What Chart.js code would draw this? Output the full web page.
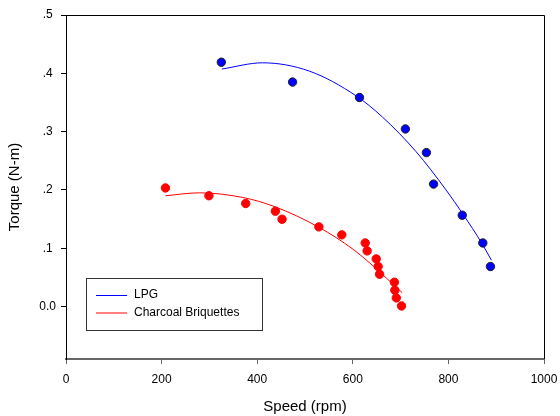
<!DOCTYPE html>
<html>
<head>
<meta charset="utf-8">
<script src="https://cdn.jsdelivr.net/npm/chart.js@4.4.0/dist/chart.umd.min.js"></script>
<style>
  html, body { margin: 0; padding: 0; background: #fff; }
  #wrap { width: 560px; height: 416px; }
</style>
</head>
<body>
<div id="wrap"><canvas id="torqueChart" width="560" height="416"></canvas></div>
<script>
// measured points
const lpgSpeed = [325, 474, 614, 710, 754, 769, 829, 872, 888];
const lpgTorque = [0.419, 0.385, 0.3585, 0.3046, 0.264, 0.210, 0.1566, 0.109, 0.0686];
const charSpeed = [208, 299, 376, 438, 452, 529, 577, 626, 630, 649, 653, 656, 687, 688, 691, 702];
const charTorque = [0.2034, 0.190, 0.1767, 0.1635, 0.1497, 0.1366, 0.1229, 0.109, 0.0954, 0.0817, 0.0686, 0.0554, 0.0417, 0.028, 0.0148, 0.001];

// regression curves
const lpgFitSpeed = [326, 411, 509, 607, 662, 732, 795, 830, 871, 890];
const lpgFitTorque = [0.4073, 0.418, 0.4038, 0.3613, 0.325, 0.266, 0.200, 0.159, 0.107, 0.0794];
const charFitSpeed = [208, 279, 370, 436, 530, 600, 642, 670, 703];
const charFitTorque = [0.190, 0.195, 0.187, 0.1715, 0.1355, 0.0985, 0.070, 0.049, 0.024];

const seriesNames = ['LPG', 'Charcoal Briquettes'];
const xTicks = [0, 200, 400, 600, 800, 1000];
const yTicks = [0, 0.1, 0.2, 0.3, 0.4, 0.5];
const yTickLabels = ['0.0', '.1', '.2', '.3', '.4', '.5'];

const FONT = 'Liberation Sans, Arial, sans-serif';
const toXY = (xs, ys) => xs.map((x, i) => ({ x: x, y: ys[i] }));

const frameAndLegend = {
    id: 'frameAndLegend',
    afterDraw(chart) {
        const ctx = chart.ctx;
        const a = chart.chartArea;
        ctx.save();
        // top and right border
        ctx.strokeStyle = '#000';
        ctx.lineWidth = 1;
        ctx.beginPath();
        ctx.moveTo(a.left, a.top + 0.5);
        ctx.lineTo(a.right + 0.5, a.top + 0.5);
        ctx.lineTo(a.right + 0.5, a.bottom);
        ctx.stroke();

        // legend box inside the plot
        ctx.strokeStyle = '#333';
        ctx.strokeRect(86.5, 278.5, 176, 52);
        const colors = ['#0000ff', '#ff0000'];
        ctx.font = '12px ' + FONT;
        ctx.textBaseline = 'middle';
        ctx.fillStyle = '#000';
        seriesNames.forEach((name, i) => {
            const y = 295 + i * 17.5;
            ctx.strokeStyle = colors[i];
            ctx.beginPath();
            ctx.moveTo(96, y + 0.5);
            ctx.lineTo(127, y + 0.5);
            ctx.stroke();
            ctx.fillText(name, 134, y);
        });
        ctx.restore();
    }
};

new Chart(document.getElementById('torqueChart'), {
    type: 'scatter',
    data: {
        datasets: [
            {
                label: seriesNames[0] + ' fit',
                data: toXY(lpgFitSpeed, lpgFitTorque),
                showLine: true,
                borderColor: '#0000ff',
                borderWidth: 1,
                pointRadius: 0,
                cubicInterpolationMode: 'monotone',
                fill: false
            },
            {
                label: seriesNames[1] + ' fit',
                data: toXY(charFitSpeed, charFitTorque),
                showLine: true,
                borderColor: '#ff0000',
                borderWidth: 1,
                pointRadius: 0,
                cubicInterpolationMode: 'monotone',
                fill: false
            },
            {
                label: seriesNames[0],
                data: toXY(lpgSpeed, lpgTorque),
                backgroundColor: '#0000ff',
                borderColor: '#222',
                borderWidth: 1,
                pointRadius: 4.2
            },
            {
                label: seriesNames[1],
                data: toXY(charSpeed, charTorque),
                backgroundColor: '#ff0000',
                borderColor: '#ff0000',
                borderWidth: 1,
                pointRadius: 4.2
            }
        ]
    },
    options: {
        responsive: false,
        animation: false,
        devicePixelRatio: 1,
        layout: { padding: { top: 15, right: 16, bottom: 0, left: 0 } },
        plugins: {
            legend: { display: false },
            tooltip: { enabled: false }
        },
        scales: {
            x: {
                type: 'linear',
                min: 0,
                max: 1000,
                afterBuildTicks: (s) => { s.ticks = xTicks.map(v => ({ value: v })); },
                afterFit: (s) => { s.height = 57; s.paddingLeft = 0; s.paddingRight = 0; },
                grid: { display: true, drawOnChartArea: false, drawTicks: true, tickLength: 5, color: '#666', lineWidth: 1 },
                border: { display: true, color: '#666', width: 2 },
                ticks: { color: '#000', font: { family: FONT, size: 12 }, padding: 8, maxRotation: 0, callback: (v) => String(v) },
                title: { display: true, text: 'Speed (rpm)', color: '#000', font: { family: FONT, size: 15 }, padding: 0 }
            },
            y: {
                type: 'linear',
                min: -0.09,
                max: 0.5,
                afterBuildTicks: (s) => { s.ticks = yTicks.map(v => ({ value: v })); },
                afterFit: (s) => { s.width = 66; s.paddingTop = 0; s.paddingBottom = 0; },
                grid: { display: true, drawOnChartArea: false, drawTicks: true, tickLength: 5, color: '#000', lineWidth: 1 },
                border: { display: true, color: '#000', width: 1 },
                ticks: {
                    color: '#000',
                    font: { family: FONT, size: 12 },
                    padding: 5,
                    crossAlign: 'center',
                    callback: (v) => {
                        const i = yTicks.findIndex(t => Math.abs(t - v) < 1e-9);
                        return i >= 0 ? yTickLabels[i] : '';
                    }
                },
                title: { display: true, text: 'Torque (N-m)', color: '#000', font: { family: FONT, size: 15 }, padding: { top: 6, bottom: 0 } }
            }
        }
    },
    plugins: [frameAndLegend]
});
</script>
</body>
</html>
